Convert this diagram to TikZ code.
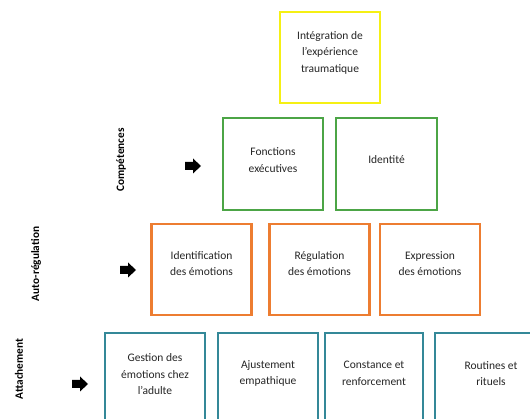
\documentclass[tikz,border=0pt]{standalone}
\usepackage{fontspec}
\setmainfont{Carlito}
\definecolor{cyel}{RGB}{245,240,20}
\definecolor{cgreen}{RGB}{76,165,70}
\definecolor{corange}{RGB}{237,125,49}
\definecolor{cteal}{RGB}{52,136,152}
\tikzset{
  boxbase/.style={draw, line width=2.1pt, inner sep=0pt, minimum height=91pt, minimum width=100pt},
  ybox/.style={boxbase, draw=cyel},
  gbox/.style={boxbase, draw=cgreen},
  obox/.style={boxbase, draw=corange},
  tbox/.style={boxbase, draw=cteal},
  txt/.style={align=center, inner sep=0pt, text=black!85, font=\fontsize{11.5}{16.5}\selectfont},
  lvl/.style={rotate=90, inner sep=0pt, font=\fontsize{11.3}{13}\selectfont\bfseries},
}
\newcommand{\blockarrow}[2]{% left x, center y
  \fill[black] (#1,#2-4) -- (#1+8,#2-4) -- (#1+8,#2-7.5) -- (#1+16,#2) -- (#1+8,#2+7.5) -- (#1+8,#2+4) -- (#1,#2+4) -- cycle;}
\begin{document}
\begin{tikzpicture}[x=1pt,y=-1pt]
\useasboundingbox (0,0) rectangle (530,419);
\fill[white] (0,0) rectangle (530,419);
\clip (0,0) rectangle (530,419);
% boxes
\node[ybox, minimum height=91pt] (y1) at (330,57.5) {};
\node[gbox, minimum height=92pt] (g1) at (273,164) {};
\node[gbox, minimum height=92pt, minimum width=101pt] (g2) at (386.5,164) {};
\node[obox] (o1) at (201.5,269.5) {};
\node[obox] (o2) at (319.5,269.5) {};
\node[obox] (o3) at (430,269.5) {};
\node[tbox, minimum height=94pt] (t1) at (155,380) {};
\node[tbox, minimum height=94pt] (t2) at (268,380) {};
\node[tbox, minimum height=94pt, minimum width=98pt] (t3) at (374,380) {};
\node[tbox, minimum height=94pt, minimum width=112pt] (t4) at (491,380) {};
% texts
\node[txt] (y1t) at (330,52.5) {Intégration de\\l’expérience\\traumatique};
\node[txt] (g1t) at (273,160) {Fonctions\\exécutives};
\node[txt] (g2t) at (386.5,160) {Identité};
\node[txt] (o1t) at (201.5,263.5) {Identification\\des émotions};
\node[txt] (o2t) at (319.5,263.5) {Régulation\\des émotions};
\node[txt] (o3t) at (430,263.5) {Expression\\des émotions};
\node[txt] (t1t) at (155,374.5) {Gestion des\\émotions chez\\l’adulte};
\node[txt] (t2t) at (268,373.5) {Ajustement\\empathique};
\node[txt] (t3t) at (374,373.5) {Constance et\\renforcement};
\node[txt] (t4t) at (491,373.5) {Routines et\\rituels};
% level labels
\node[lvl] (lc) at (121,160) {Compétences};
\node[lvl] (la) at (36,264) {Auto-régulation};
\node[lvl] (lat) at (19,369) {Attachement};
% arrows
\blockarrow{185}{166}
\blockarrow{120}{270}
\blockarrow{72}{384}
\end{tikzpicture}
\end{document}
